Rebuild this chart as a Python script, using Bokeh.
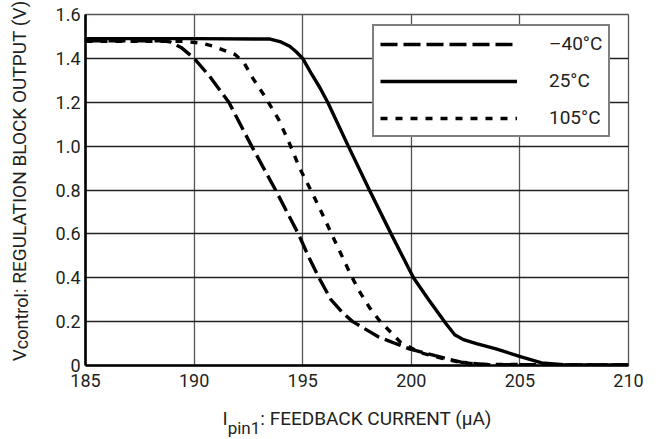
from bokeh.plotting import figure
from bokeh.models import Legend, LegendItem, FixedTicker, Range1d, Div
from bokeh.layouts import column, row
from bokeh.embed import file_html
from bokeh.resources import INLINE

FONT = "Roboto"
INK = "#231f20"

# ---- data ----
series_names = ["\u201340\u00b0C", "25\u00b0C", "105\u00b0C"]

x_m40 = [185, 188.5, 188.9, 189.4, 190.0, 190.7, 191.6, 192.65, 193.75, 194.8, 195.3,
         195.75, 196.3, 196.8, 197.3, 198.5, 199.9, 201.1, 202.3, 203.5, 210]
y_m40 = [1.48, 1.48, 1.475, 1.45, 1.40, 1.32, 1.20, 1.00, 0.80, 0.60, 0.49,
         0.40, 0.30, 0.245, 0.20, 0.13, 0.076, 0.045, 0.015, 0.004, 0.002]

x_25 = [185, 190, 193.5, 194.0, 194.4, 194.7, 195.0, 195.4, 195.8, 196.15, 197.1, 198.07,
        199.07, 200.1, 200.8, 201.6, 202.0, 202.4, 203.0, 203.9, 205.1, 206.0, 207.0, 210]
y_25 = [1.49, 1.49, 1.488, 1.475, 1.455, 1.43, 1.40, 1.33, 1.265, 1.20, 1.00, 0.80,
        0.60, 0.40, 0.30, 0.19, 0.14, 0.118, 0.10, 0.076, 0.038, 0.012, 0.004, 0.002]

x_105 = [185, 189.5, 190.3, 190.9, 191.9, 192.3, 192.7, 193.3, 193.9, 194.4, 194.86,
         195.47, 195.86, 196.47, 197.23, 197.6, 198.07, 198.53, 199.5, 200.37, 201.28,
         202.2, 203.2, 210]
y_105 = [1.478, 1.478, 1.47, 1.455, 1.417, 1.38, 1.31, 1.22, 1.12, 1.01, 0.90,
         0.78, 0.70, 0.57, 0.41, 0.34, 0.265, 0.205, 0.106, 0.06, 0.036,
         0.015, 0.005, 0.002]

x_ticks = [185, 190, 195, 200, 205, 210]
x_tick_labels = ["185", "190", "195", "200", "205", "210"]
y_ticks = [0, 0.2, 0.4, 0.6, 0.8, 1.0, 1.2, 1.4, 1.6]
y_tick_labels = ["0", "0.2", "0.4", "0.6", "0.8", "1.0", "1.2", "1.4", "1.6"]

y_title = ("V", "control", ": REGULATION BLOCK OUTPUT (V)")
x_title = ("I", "pin1", ": FEEDBACK CURRENT (\u00b5A)")

# ---- figure ----
p = figure(width=618, height=392, output_backend="svg", toolbar_location=None,
           x_range=Range1d(185, 210), y_range=Range1d(0, 1.6),
           min_border_left=45, min_border_right=30, min_border_top=14, min_border_bottom=27)
p.background_fill_color = "white"
p.border_fill_color = "white"
p.outline_line_color = "#555555"
p.outline_line_width = 1.3

p.xaxis.ticker = FixedTicker(ticks=x_ticks)
p.yaxis.ticker = FixedTicker(ticks=y_ticks)
p.xaxis.major_label_overrides = {t: l for t, l in zip(x_ticks, x_tick_labels)}
p.yaxis.major_label_overrides = {t: l for t, l in zip(y_ticks, y_tick_labels)}
for ax in (p.xaxis, p.yaxis):
    ax.axis_line_color = "black"
    ax.axis_line_width = 2.6
    ax.major_tick_line_color = None
    ax.minor_tick_line_color = None
    ax.major_tick_out = 0
    ax.major_tick_in = 0
    ax.major_label_text_font = FONT
    ax.major_label_text_font_size = "18px"
    ax.major_label_text_color = INK
p.xaxis.major_label_standoff = 8
p.yaxis.major_label_standoff = 5

p.xgrid.grid_line_color = "#555555"
p.xgrid.grid_line_width = 1.3
p.ygrid.grid_line_color = "#222222"
p.ygrid.grid_line_width = 1.3

r1 = p.line(x_m40, y_m40, line_color="black", line_width=3.4, line_dash="17 6")
r2 = p.line(x_25, y_25, line_color="black", line_width=3.4)
r3 = p.line(x_105, y_105, line_color="black", line_width=3.4, line_dash="7 8")

legend = Legend(items=[LegendItem(label=series_names[0], renderers=[r1]),
                       LegendItem(label=series_names[1], renderers=[r2]),
                       LegendItem(label=series_names[2], renderers=[r3])],
                location=(287, 228), padding=6, spacing=14, margin=0,
                glyph_width=137, glyph_height=20, label_height=20, label_standoff=32,
                label_text_font=FONT, label_text_font_size="19px", label_text_color=INK,
                border_line_color="black", border_line_width=2.6,
                background_fill_color="white", background_fill_alpha=1.0)
p.add_layout(legend)

# ---- axis titles (HTML, so that the subscripts are real text) ----
base = f"font-family:{FONT}; font-size:19px; line-height:19px; color:{INK}; white-space:nowrap; box-sizing:border-box;"
y_html = (f'<div style="{base} width:392px; height:40px; transform-origin:0 0; '
          f'transform:translate(0px,392px) rotate(-90deg); padding-left:30px; padding-top:10px; '
          f'text-align:center;">{y_title[0]}<span style="font-size:18px; position:relative; top:2px;">'
          f'{y_title[1]}</span>{y_title[2]}</div>')
x_html = (f'<div style="{base} width:658px; height:47px; padding-left:56px; padding-top:17px; '
          f'text-align:center;">{x_title[0]}<span style="font-size:17px; position:relative; top:9px;">'
          f'{x_title[1]}</span>{x_title[2]}</div>')

ydiv = Div(text=y_html, width=40, height=392, margin=0, styles={"overflow": "visible"})
xdiv = Div(text=x_html, width=658, height=47, margin=0, styles={"overflow": "visible"})

layout = column(row(ydiv, p, spacing=0), xdiv, spacing=0)

open("out.html", "w").write(file_html(layout, INLINE))
